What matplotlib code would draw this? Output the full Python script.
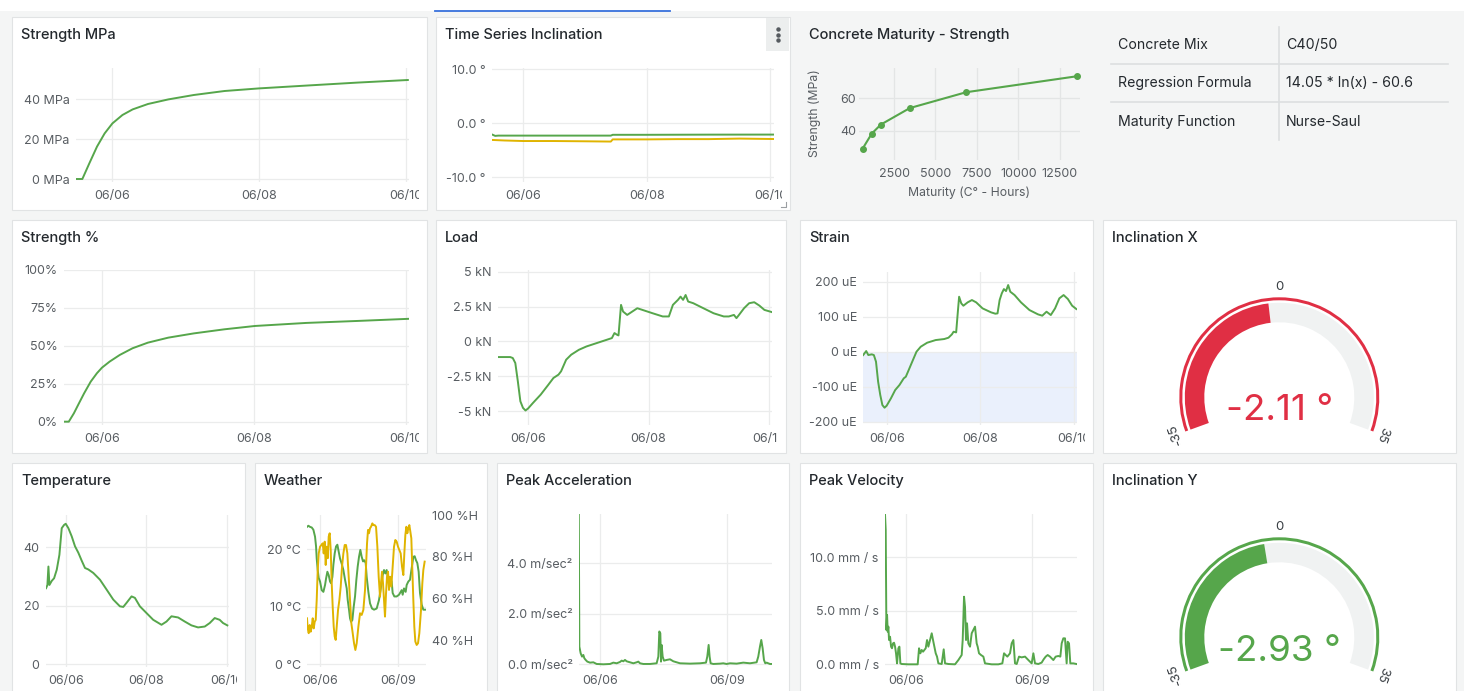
import matplotlib
matplotlib.use("Agg")
import matplotlib.pyplot as plt
import numpy as np
from matplotlib.patches import Rectangle, Wedge
from matplotlib.lines import Line2D
from matplotlib.transforms import Bbox, TransformedBbox

plt.rcParams['font.family'] = ['Inter', 'DejaVu Sans']

# ---------------------------------------------------------------- data
DAY_TICKS = [0, 2, 4]
DAY_TICK_LABELS = ["06/06", "06/08", "06/10"]
DAY_TICKS_3 = [0, 3]
DAY_TICK_LABELS_3 = ["06/06", "06/09"]

# Strength MPa (days since 06/06 00:00)
mpa_t = [-0.5, -0.41, -0.315, -0.21, -0.106, 0.0, 0.137, 0.276, 0.485, 0.763,
         1.11, 1.53, 2.0, 2.64, 3.34, 4.03]
mpa_v = [0, 0, 7.8, 16.2, 22.8, 27.8, 32.0, 34.8, 37.5, 39.8, 42.0, 44.0, 45.3,
         46.7, 48.2, 49.5]
MPA_TICKS = [0, 20, 40]
MPA_LABELS = ["0 MPa", "20 MPa", "40 MPa"]

# Time series inclination
incx_t = [-0.5, -0.45, -0.4, 0.5, 1.0, 1.42, 1.45, 2.0, 3.0, 4.05]
incx_v = [-2.1, -2.35, -2.3, -2.3, -2.3, -2.3, -2.15, -2.15, -2.12, -2.11]
incy_t = [-0.5, -0.3, 0.0, 0.5, 1.0, 1.42, 1.45, 2.0, 2.5, 3.0, 3.5, 4.05]
incy_v = [-3.1, -3.2, -3.3, -3.3, -3.35, -3.4, -3.0, -3.0, -2.95, -2.95, -2.85, -2.93]
INC_TICKS = [-10, 0, 10]
INC_LABELS = ["-10.0 °", "0.0 °", "10.0 °"]

# Concrete maturity - strength
maturity = [600, 1150, 1700, 3450, 6850, 13550]
maturity_strength = [29.3, 38.4, 43.9, 53.9, 63.5, 73.2]
MAT_XTICKS = [2500, 5000, 7500, 10000, 12500]
MAT_YTICKS = [40, 60]

# Table
table_keys = ["Concrete Mix", "Regression Formula", "Maturity Function"]
table_vals = ["C40/50", "14.05 * ln(x) - 60.6", "Nurse-Saul"]

# Strength %
pct_t = [-0.5, -0.437, -0.37, -0.303, -0.235, -0.148, -0.067, 0.0, 0.101, 0.235,
         0.403, 0.605, 0.874, 1.21, 1.614, 2.017, 2.69, 3.362, 4.035]
pct_v = [0, 0, 5.5, 12.1, 18.7, 26.4, 31.9, 35.6, 39.6, 44.0, 48.4, 52.1, 55.4,
         58.2, 60.9, 63.1, 65.1, 66.4, 67.8]
PCT_TICKS = [0, 25, 50, 75, 100]
PCT_LABELS = ["0%", "25%", "50%", "75%", "100%"]

# Load
load_t = [-0.5, -0.295, -0.253, -0.211, -0.169, -0.127, -0.084, -0.042, 0.0, 0.084,
          0.211, 0.338, 0.422, 0.506, 0.549, 0.633, 0.717, 0.844, 0.97, 1.139,
          1.308, 1.392, 1.435, 1.477, 1.502, 1.544, 1.578, 1.646, 1.73, 1.814,
          1.899, 2.068, 2.236, 2.338, 2.405, 2.489, 2.532, 2.574, 2.616, 2.658,
          2.743, 2.911, 3.08, 3.249, 3.333, 3.418, 3.46, 3.502, 3.586, 3.671,
          3.755, 3.84, 3.924, 4.05]
load_v = [-1.12, -1.12, -1.19, -1.55, -2.86, -4.29, -4.76, -4.95, -4.81, -4.4,
          -3.81, -3.1, -2.62, -2.38, -2.14, -1.31, -0.95, -0.6, -0.36, -0.12,
          0.12, 0.24, 0.6, 0.48, 0.43, 2.62, 2.14, 1.9, 2.14, 2.38,
          2.26, 2.02, 1.79, 1.79, 2.62, 2.98, 3.21, 2.98, 3.33, 2.86,
          2.74, 2.38, 2.02, 1.79, 1.79, 1.9, 1.67, 1.9, 2.38, 2.74,
          2.81, 2.57, 2.26, 2.1]
LOAD_TICKS = [-5, -2.5, 0, 2.5, 5]
LOAD_LABELS = ["-5 kN", "-2.5 kN", "0 kN", "2.5 kN", "5 kN"]

# Strain
strain_t = [-0.5, -0.473, -0.436, -0.391, -0.318, -0.273, -0.227, -0.182, -0.136,
            -0.091, -0.045, 0.0, 0.091, 0.182, 0.273, 0.364, 0.409, 0.455, 0.545,
            0.636, 0.727, 0.864, 1.045, 1.227, 1.318, 1.391, 1.427, 1.482, 1.518,
            1.545, 1.591, 1.636, 1.727, 1.818, 1.909, 2.045, 2.227, 2.318, 2.364,
            2.409, 2.455, 2.5, 2.545, 2.591, 2.636, 2.727, 2.864, 3.045, 3.227,
            3.318, 3.409, 3.5, 3.591, 3.682, 3.773, 3.864, 3.955, 4.045]
strain_v = [-9.5, -4.8, 1.9, -9.5, -7.6, -9.5, -28.6, -85.7, -123.8, -152.4,
            -160, -154.3, -133.3, -109.5, -95.2, -76.2, -71.4, -57.1, -28.6, 0,
            14.3, 25.7, 33.3, 36.2, 40, 49.5, 57.1, 55.2, 114.3, 157.1, 138.1,
            131.4, 141, 147.6, 141, 123.8, 112.4, 108.6, 109.5, 147.6, 166.7, 179,
            173.3, 190.5, 171.4, 161.9, 141, 119, 106.7, 102.9, 114.3, 104.8,
            123.8, 152.4, 161.9, 150.5, 131.4, 121.9]
STRAIN_TICKS = [-200, -100, 0, 100, 200]
STRAIN_LABELS = ["-200 uE", "-100 uE", "0 uE", "100 uE", "200 uE"]
STRAIN_BAND = (-200, 0)

# Temperature
temp_t = [-0.488, -0.455, -0.43, -0.405, -0.347, -0.289, -0.223, -0.157, -0.099,
          -0.041, 0.0, 0.066, 0.149, 0.231, 0.314, 0.397, 0.479, 0.562, 0.686,
          0.851, 1.017, 1.182, 1.347, 1.43, 1.512, 1.636, 1.719, 1.843, 2.008,
          2.174, 2.38, 2.504, 2.628, 2.793, 2.959, 3.124, 3.289, 3.455, 3.579,
          3.702, 3.826, 3.909, 4.016]
temp_v = [26.0, 27.1, 33.4, 27.1, 28.5, 29.4, 32.3, 37.4, 46.5, 47.6, 48.0, 46.5,
          43.7, 40.3, 38.1, 35.4, 32.9, 32.4, 31.2, 28.9, 25.5, 22.1, 19.8, 19.6,
          21.0, 23.2, 22.7, 19.8, 17.5, 15.2, 13.5, 14.6, 16.4, 16.0, 14.6, 13.3,
          12.6, 12.9, 14.1, 15.8, 15.2, 14.1, 13.3]
TEMP_TICKS = [0, 20, 40]
TEMP_LABELS = ["0", "20", "40"]

# Weather: air temperature (°C) and humidity (%H)
wtemp_t = [-0.5, -0.447, -0.383, -0.319, -0.255, -0.192, -0.153, -0.128, -0.089,
           -0.051, 0.0, 0.064, 0.128, 0.192, 0.23, 0.281, 0.332, 0.383, 0.421,
           0.473, 0.511, 0.562, 0.613, 0.664, 0.715, 0.766, 0.83, 0.894, 0.958,
           1.022, 1.06, 1.111, 1.149, 1.188, 1.239, 1.29, 1.341, 1.392, 1.443,
           1.494, 1.545, 1.596, 1.648, 1.699, 1.75, 1.788, 1.852, 1.916, 1.992,
           2.069, 2.171, 2.261, 2.337, 2.401, 2.452, 2.503, 2.554, 2.618, 2.682,
           2.746, 2.784, 2.848, 2.937, 3.027, 3.129, 3.167, 3.218, 3.282, 3.321,
           3.384, 3.448, 3.512, 3.576, 3.627, 3.678, 3.729, 3.78, 3.831, 3.895,
           3.959, 4.023]
wtemp_v = [23.9, 24.1, 23.9, 23.8, 23.4, 22.2, 20.5, 18.4, 16.4, 15.0, 14.4, 12.9,
           12.6, 13.8, 14.9, 16.1, 15.5, 14.4, 14.1, 15.2, 17.3, 19.3, 20.5, 20.8,
           19.6, 18.4, 17.5, 16.4, 14.7, 13.2, 11.2, 9.5, 8.0, 7.4, 7.7, 10.0,
           11.8, 14.7, 17.0, 18.7, 19.9, 18.7, 17.9, 18.1, 17.6, 15.2, 12.6, 10.6,
           9.7, 9.5, 9.7, 11.2, 13.5, 15.5, 16.4, 15.8, 16.4, 14.7, 15.2, 14.4,
           12.4, 11.8, 11.8, 12.1, 12.9, 12.1, 13.2, 12.6, 13.8, 14.4, 14.7, 16.7,
           18.7, 18.8, 18.1, 17.6, 16.1, 12.4, 10.4, 9.5, 9.5]
hum_t = [-0.5, -0.473, -0.434, -0.396, -0.358, -0.319, -0.281, -0.243, -0.204,
         -0.166, -0.128, -0.089, -0.051, 0.0, 0.051, 0.102, 0.14, 0.179, 0.217,
         0.255, 0.294, 0.332, 0.37, 0.409, 0.447, 0.485, 0.524, 0.562, 0.6, 0.639,
         0.69, 0.741, 0.792, 0.843, 0.894, 0.945, 0.996, 1.047, 1.098, 1.149, 1.2,
         1.252, 1.303, 1.354, 1.405, 1.469, 1.533, 1.596, 1.66, 1.724, 1.762,
         1.801, 1.839, 1.877, 1.916, 1.954, 2.005, 2.043, 2.095, 2.146, 2.197,
         2.248, 2.299, 2.337, 2.375, 2.414, 2.452, 2.49, 2.529, 2.567, 2.605,
         2.644, 2.682, 2.733, 2.784, 2.835, 2.886, 2.937, 2.989, 3.04, 3.091,
         3.142, 3.193, 3.231, 3.27, 3.308, 3.346, 3.384, 3.423, 3.461, 3.499,
         3.538, 3.576, 3.614, 3.653, 3.704, 3.755, 3.806, 3.87, 3.921, 3.959, 4.01]
hum_v = [50.8, 46.0, 43.7, 47.6, 44.4, 46.8, 50.8, 46.0, 49.2, 50.0, 59.5, 73.8,
         81.7, 84.9, 85.7, 86.5, 81.7, 87.3, 76.2, 84.9, 79.4, 89.7, 91.3, 83.3,
         67.5, 56.3, 46.8, 42.1, 40.5, 46.8, 54.8, 59.5, 65.9, 75.4, 81.7, 85.7,
         85.7, 81.7, 70.6, 59.5, 48.4, 43.7, 38.9, 35.7, 38.9, 46.8, 53.2, 52.4,
         54.8, 64.3, 75.4, 86.5, 92.9, 91.3, 93.7, 94.4, 96.0, 95.2, 95.2, 94.4,
         84.9, 70.6, 61.1, 67.5, 73.0, 67.5, 59.5, 51.6, 62.7, 70.6, 73.0, 64.3,
         70.6, 65.9, 75.4, 84.9, 88.1, 87.3, 84.9, 83.3, 81.7, 75.4, 71.4, 81.7,
         90.5, 94.4, 91.3, 93.7, 95.2, 92.1, 88.9, 73.8, 59.5, 46.8, 39.7, 38.1,
         38.9, 43.7, 54.8, 67.5, 73.8, 77.8]
WT_TICKS = [0, 10, 20]
WT_LABELS = ["0 °C", "10 °C", "20 °C"]
HUM_TICKS = [40, 60, 80, 100]
HUM_LABELS = ["40 %H", "60 %H", "80 %H", "100 %H"]

# Peak acceleration
acc_t = [-0.5, -0.487, -0.456, -0.424, -0.393, -0.369, -0.338, -0.299, -0.236,
         -0.157, -0.079, 0.079, 0.236, 0.314, 0.393, 0.471, 0.511, 0.55, 0.589,
         0.628, 0.707, 0.786, 0.864, 0.903, 0.943, 1.021, 1.178, 1.335, 1.375,
         1.398, 1.422, 1.438, 1.453, 1.477, 1.508, 1.571, 1.65, 1.728, 1.885,
         2.121, 2.357, 2.498, 2.529, 2.561, 2.584, 2.608, 2.671, 2.828, 2.906,
         2.985, 3.064, 3.221, 3.378, 3.535, 3.692, 3.731, 3.771, 3.802, 3.834,
         3.865, 3.896, 3.928, 4.006, 4.05]
acc_v = [5.95, 0.7, 0.436, 0.304, 0.37, 0.238, 0.172, 0.106, 0.066, 0.079, 0.013,
         0.0, 0.013, 0.066, 0.04, 0.092, 0.145, 0.119, 0.172, 0.119, 0.079, 0.04,
         0.079, 0.106, 0.04, 0.013, 0.013, 0.04, 0.304, 1.3, 1.23, 0.106, 0.766,
         0.304, 0.145, 0.172, 0.198, 0.119, 0.04, 0.026, 0.04, 0.066, 0.304,
         0.766, 0.304, 0.04, 0.013, 0.026, 0.04, 0.013, 0.04, 0.026, 0.066, 0.04,
         0.079, 0.304, 0.7, 0.964, 0.634, 0.172, 0.04, 0.066, 0.013, 0.013]
ACC_TICKS = [0, 2, 4]
ACC_LABELS = ["0.0 m/sec²", "2.0 m/sec²", "4.0 m/sec²"]

# Peak velocity
vel_t = [-0.5, -0.483, -0.467, -0.451, -0.435, -0.42, -0.404, -0.38, -0.356,
         -0.333, -0.309, -0.285, -0.261, -0.238, -0.214, -0.182, -0.158, -0.135,
         -0.103, 0.055, 0.277, 0.309, 0.34, 0.372, 0.404, 0.435, 0.467, 0.499,
         0.53, 0.57, 0.61, 0.641, 0.673, 0.705, 0.736, 0.768, 0.847, 0.895, 0.926,
         1.006, 1.164, 1.243, 1.322, 1.346, 1.378, 1.401, 1.425, 1.449, 1.48,
         1.52, 1.56, 1.599, 1.639, 1.678, 1.702, 1.734, 1.781, 1.837, 1.876,
         2.035, 2.193, 2.288, 2.328, 2.367, 2.407, 2.47, 2.51, 2.55, 2.589,
         2.629, 2.684, 2.747, 2.827, 2.906, 2.985, 3.025, 3.064, 3.143, 3.222,
         3.27, 3.318, 3.365, 3.42, 3.5, 3.555, 3.618, 3.666, 3.698, 3.737, 3.777,
         3.816, 3.84, 3.872, 3.903, 3.975, 4.05]
vel_v = [14.03, 12.55, 3.21, 4.61, 3.05, 3.52, 2.27, 2.58, 1.65, 1.5, 1.96, 2.02,
         1.65, 1.03, 0.09, 1.5, 1.65, 0.09, 0.03, 0.0, 0.0, 1.5, 1.03, 1.34, 1.18,
         1.34, 1.5, 2.27, 1.65, 2.27, 2.9, 2.27, 1.65, 1.03, 0.72, 0.09, 0.03,
         1.4, 0.09, 0.03, 0.0, 0.4, 0.87, 2.27, 6.32, 5.36, 2.27, 3.83, 1.96, 1.65,
         2.9, 3.21, 3.52, 1.96, 1.65, 1.03, 0.87, 0.72, 0.09, 0.0, 0.0, 0.09, 1.03,
         0.87, 0.72, 1.03, 1.96, 2.27, 0.09, 0.03, 0.72, 0.65, 0.72, 0.4, 0.09,
         1.03, 0.09, 0.03, 0.16, 0.47, 0.72, 0.87, 0.72, 0.4, 0.72, 0.78, 0.72,
         1.96, 2.43, 2.43, 0.09, 2.11, 1.96, 0.09, 0.09, 0.03]
VEL_TICKS = [0, 5, 10]
VEL_LABELS = ["0.0 mm / s", "5.0 mm / s", "10.0 mm / s"]

# Gauges
GAUGE_MIN, GAUGE_MAX = -35, 35
GAUGE_TICKS = [-35, 0, 35]
incl_x_value = -2.11
incl_y_value = -2.93

# ---------------------------------------------------------------- style
W, H = 1464, 691
BG = "#f4f5f5"
BORDER = "#e1e3e4"
TITLE = "#24292e"
TICK = "#585d62"
GRID = "#ebecec"
GREEN = "#56a64b"
YELLOW = "#e0b400"
RED = "#e02f44"
GAUGE_BG = "#f0f2f2"
XLIM = (-0.5, 4.05)

fig = plt.figure(figsize=(W / 100, H / 100), dpi=100)
fig.patch.set_facecolor(BG)


def fbox(l, t, r, b):
    return [l / W, 1 - b / H, (r - l) / W, (b - t) / H]


def fig_rect(l, t, r, b, fc, ec="none", lw=0.0, z=0):
    fig.add_artist(Rectangle((l / W, 1 - b / H), (r - l) / W, (b - t) / H,
                             transform=fig.transFigure, fc=fc, ec=ec, lw=lw,
                             zorder=z))


def fig_line(xs, ys, color, lw):
    fig.add_artist(Line2D([x / W for x in xs], [1 - y / H for y in ys],
                          transform=fig.transFigure, color=color, lw=lw))


def panel(box, title, white=True):
    l, t, r, b = box
    if white:
        fig_rect(l, t, r, min(b, H + 5), "white", BORDER, 0.8)
    fig.text((l + 9) / W, 1 - (t + 18) / H, title, ha="left", va="center",
             fontsize=10.5, color=TITLE, fontweight="medium")


def style_axes(ax, box, xticks, xlabels, yticks, ylabels):
    ax.set_facecolor("none")
    for s in ax.spines.values():
        s.set_visible(False)
    ax.set_axisbelow(True)
    ax.grid(True, color=GRID, lw=0.9)
    ax.set_xticks(xticks, xlabels)
    ax.set_yticks(yticks, ylabels)
    ax.tick_params(axis="both", length=0, labelsize=9, colors=TICK)
    ax.tick_params(axis="x", pad=5.5)
    ax.tick_params(axis="y", pad=4.5)
    l, t, r, b = box
    clip = TransformedBbox(Bbox.from_extents(l / W, 1 - b / H, (r - 8) / W,
                                             1 - t / H), fig.transFigure)
    for lab in ax.get_xticklabels():
        lab.set_clip_box(clip)
        lab.set_clip_on(True)


def ts_panel(box, title, axpx, ylim, yticks, ylabels, series,
             xticks=DAY_TICKS, xlabels=DAY_TICK_LABELS):
    panel(box, title)
    ax = fig.add_axes(fbox(*axpx))
    ax.set_xlim(*XLIM)
    ax.set_ylim(*ylim)
    style_axes(ax, box, xticks, xlabels, yticks, ylabels)
    for t, v, c in series:
        ax.plot(t, v, color=c, lw=1.4, solid_joinstyle="round")
    return ax


# top strip
fig_rect(0, 0, W, 11, "white")
fig_line([435, 670], [10.5, 10.5], "#3871dc", 1.3)

# ------------------------------------------------ row 1
P_MPA = (12, 17, 427, 210)
ts_panel(P_MPA, "Strength MPa", (75.75, 68, 409.3, 182), (-1.5, 55.5),
         MPA_TICKS, MPA_LABELS, [(mpa_t, mpa_v, GREEN)])

P_TSI = (436, 17, 790, 210)
ts_panel(P_TSI, "Time Series Inclination", (492.1, 68, 773.5, 182),
         (-10.87, 10.19), INC_TICKS, INC_LABELS,
         [(incy_t, incy_v, YELLOW), (incx_t, incx_v, GREEN)])
fig_rect(766, 18, 789, 51, "#eceeee")
for yy in (29, 34.5, 40):
    fig.add_artist(Line2D([777.7 / W], [1 - yy / H], transform=fig.transFigure,
                          marker="o", ms=2.2, color="#555a5f", lw=0))
fig_line([781, 786, 786], [207, 207, 202], "#9a9ea2", 0.8)

# maturity chart (transparent panel)
panel((800, 17, 1100, 210), "Concrete Maturity - Strength", white=False)
axm = fig.add_axes(fbox(859, 68, 1080.3, 160))
axm.set_xlim(380, 13750)
axm.set_ylim(22.4, 78.2)
axm.set_facecolor("none")
for s in axm.spines.values():
    s.set_visible(False)
axm.set_axisbelow(True)
axm.grid(True, color="#e3e5e5", lw=0.9)
axm.set_xticks(MAT_XTICKS, [str(v) for v in MAT_XTICKS])
axm.set_yticks(MAT_YTICKS, [str(v) for v in MAT_YTICKS])
axm.tick_params(length=0, labelsize=9, colors=TICK)
axm.tick_params(axis="x", pad=6)
axm.tick_params(axis="y", pad=2)
axm.plot(maturity, maturity_strength, color=GREEN, lw=1.5, marker="o", ms=4,
         clip_on=False)
fig.text(815 / W, 1 - 113 / H, "Strength (MPa)", rotation=90, ha="center",
         va="center", fontsize=8.8, color=TICK)
fig.text(969 / W, 1 - 193 / H, "Maturity (C° - Hours)", ha="center",
         va="center", fontsize=8.8, color=TICK)

# table
row_y = [45, 83.3, 121.7]
for k, v, yy in zip(table_keys, table_vals, row_y):
    fig.text(1118 / W, 1 - yy / H, k, ha="left", va="center", fontsize=10.2,
             color=TITLE)
    fig.text(1286 / W, 1 - yy / H, v, ha="left", va="center", fontsize=10.2,
             color=TITLE)
for yy in (63.5, 101.7):
    fig_line([1111, 1448], [yy, yy], "#dcdfe0", 1.2)
fig_line([1279, 1279], [27, 140], "#dcdfe0", 1.2)

# ------------------------------------------------ row 2
P_PCT = (12, 220, 427, 453)
ts_panel(P_PCT, "Strength %", (64, 270, 409.4, 425), (-2.2, 100),
         PCT_TICKS, PCT_LABELS, [(pct_t, pct_v, GREEN)])

P_LOAD = (436, 220, 786, 453)
ts_panel(P_LOAD, "Load", (497.9, 270, 772.0, 425), (-5.99, 5.12),
         LOAD_TICKS, LOAD_LABELS, [(load_t, load_v, GREEN)])

P_STRAIN = (800, 220, 1093, 453)
axs = ts_panel(P_STRAIN, "Strain", (863.2, 271.7, 1076.6, 425),
               (-209.4, 228.6), STRAIN_TICKS, STRAIN_LABELS,
               [(strain_t, strain_v, GREEN)])
axs.axhspan(STRAIN_BAND[0], STRAIN_BAND[1], color="#eaf0fc", zorder=0.2, lw=0)

# ------------------------------------------------ row 3
P_TEMP = (12, 463, 245, 700)
ts_panel(P_TEMP, "Temperature", (45.6, 515, 228.7, 667), (-0.92, 51.0),
         TEMP_TICKS, TEMP_LABELS, [(temp_t, temp_v, GREEN)])

P_WEATHER = (255, 463, 487, 700)
axw = ts_panel(P_WEATHER, "Weather", (307, 515, 425.7, 667), (-0.47, 25.97),
               WT_TICKS, WT_LABELS, [(wtemp_t, wtemp_v, GREEN)],
               DAY_TICKS_3, DAY_TICK_LABELS_3)
axh = axw.twinx()
axh.set_ylim(27.6, 100)
for s in axh.spines.values():
    s.set_visible(False)
axh.set_yticks(HUM_TICKS, HUM_LABELS)
axh.tick_params(axis="y", length=0, labelsize=9, colors=TICK, pad=4.5)
axh.plot(hum_t, hum_v, color=YELLOW, lw=1.4)

P_ACC = (497, 463, 789, 700)
ts_panel(P_ACC, "Peak Acceleration", (578.8, 514, 771.8, 667), (-0.107, 5.95),
         ACC_TICKS, ACC_LABELS, [(acc_t, acc_v, GREEN)],
         DAY_TICKS_3, DAY_TICK_LABELS_3)

P_VEL = (800, 463, 1093, 700)
ts_panel(P_VEL, "Peak Velocity", (885, 514, 1076.5, 667), (-0.25, 14.05),
         VEL_TICKS, VEL_LABELS, [(vel_t, vel_v, GREEN)],
         DAY_TICKS_3, DAY_TICK_LABELS_3)

# ------------------------------------------------ gauges
A_START, A_END = 200.0, -20.0


def gauge(box, title, value, color, cx, cy, text_y):
    panel(box, title)
    l, t, r, b = box
    b = min(b, H)
    ax = fig.add_axes(fbox(l, t, r, b))
    ax.set_xlim(l, r)
    ax.set_ylim(H - b, H - t)
    ax.axis("off")
    ax.patch.set_visible(False)
    c = (cx, H - cy)

    def ang(v):
        return A_START - (v - GAUGE_MIN) / (GAUGE_MAX - GAUGE_MIN) * (A_START - A_END)

    ax.add_patch(Wedge(c, 100, A_END, A_START, width=3, color=color, lw=0))
    av = ang(value)
    ax.add_patch(Wedge(c, 94.5, A_END, av, width=19.5, color=GAUGE_BG, lw=0))
    ax.add_patch(Wedge(c, 94.5, av, A_START, width=19.5, color=color, lw=0))
    for tv in GAUGE_TICKS:
        a = ang(tv)
        rad = np.deg2rad(a)
        ax.text(cx + 110 * np.cos(rad), H - cy + 110 * np.sin(rad), str(tv),
                rotation=a - 90, ha="center", va="center",
                rotation_mode="anchor", fontsize=9.5, color="#3a3f44")
    ax.text(cx, H - text_y, f"{value:.2f} °", ha="center", va="center",
            fontsize=26.5, color=color)


gauge((1103, 220, 1456, 453), "Inclination X", incl_x_value, RED,
      1279.3, 397.3, 410)
gauge((1103, 463, 1456, 700), "Inclination Y", incl_y_value, GREEN,
      1279.3, 637.3, 651.7)

fig.savefig("out.png", dpi=100, facecolor=fig.get_facecolor())
